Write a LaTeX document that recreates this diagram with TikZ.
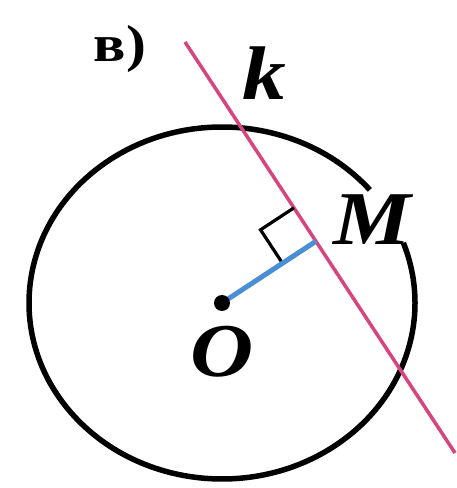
\documentclass[tikz,border=0pt]{standalone}
\usepackage{fontspec}
\usepackage{tikz}
\usetikzlibrary{calc}
\setmainfont{Liberation Serif}
\newfontfamily\lblfont[FakeStretch=1.15]{Liberation Serif}
\definecolor{LineColor}{HTML}{D6457F}
\definecolor{RadiusColor}{HTML}{4A8FD4}

\begin{document}
\begin{tikzpicture}[
    x=1pt, y=1pt,
    circ/.style={draw=black, line width=5.5pt},
    kline/.style={draw=LineColor, line width=3.5pt},
    rad/.style={draw=RadiusColor, line width=5pt},
    rmark/.style={draw=black, line width=3.2pt},
    lbl/.style={inner sep=0pt, anchor=base, font=\lblfont\fontsize{76}{76}\selectfont\bfseries\itshape}
  ]
  \useasboundingbox (0,0) rectangle (457,488);
  \coordinate (O) at (222,185);
  \coordinate (k1) at (185,446);
  \coordinate (k2) at (455,35);
  \coordinate (M) at ($(k1)!(O)!(k2)$);
  \coordinate (A) at ($(M)!40pt!(k1)$);
  \coordinate (C) at ($(M)!40pt!(O)$);
  \coordinate (B) at ($(A)+(C)-(M)$);

  \draw[circ] (O) ++(40:193 and 176) arc[start angle=40, end angle=380, x radius=193, y radius=176];
  \draw[kline] (k1) -- (k2);
  \draw[rmark] (A) -- (B) -- (C);
  \draw[rad] (O) -- (M);
  \fill (O) circle[radius=8];

  \node[lbl, font=\lblfont\fontsize{52}{52}\selectfont\bfseries] (variant) at (120,426) {в)};
  \node[lbl] (lk) at (264,388) {k};
  \node[lbl] (lM) at (372,243) {M};
  \node[lbl] (lO) at (222,111) {O};
\end{tikzpicture}
\end{document}
